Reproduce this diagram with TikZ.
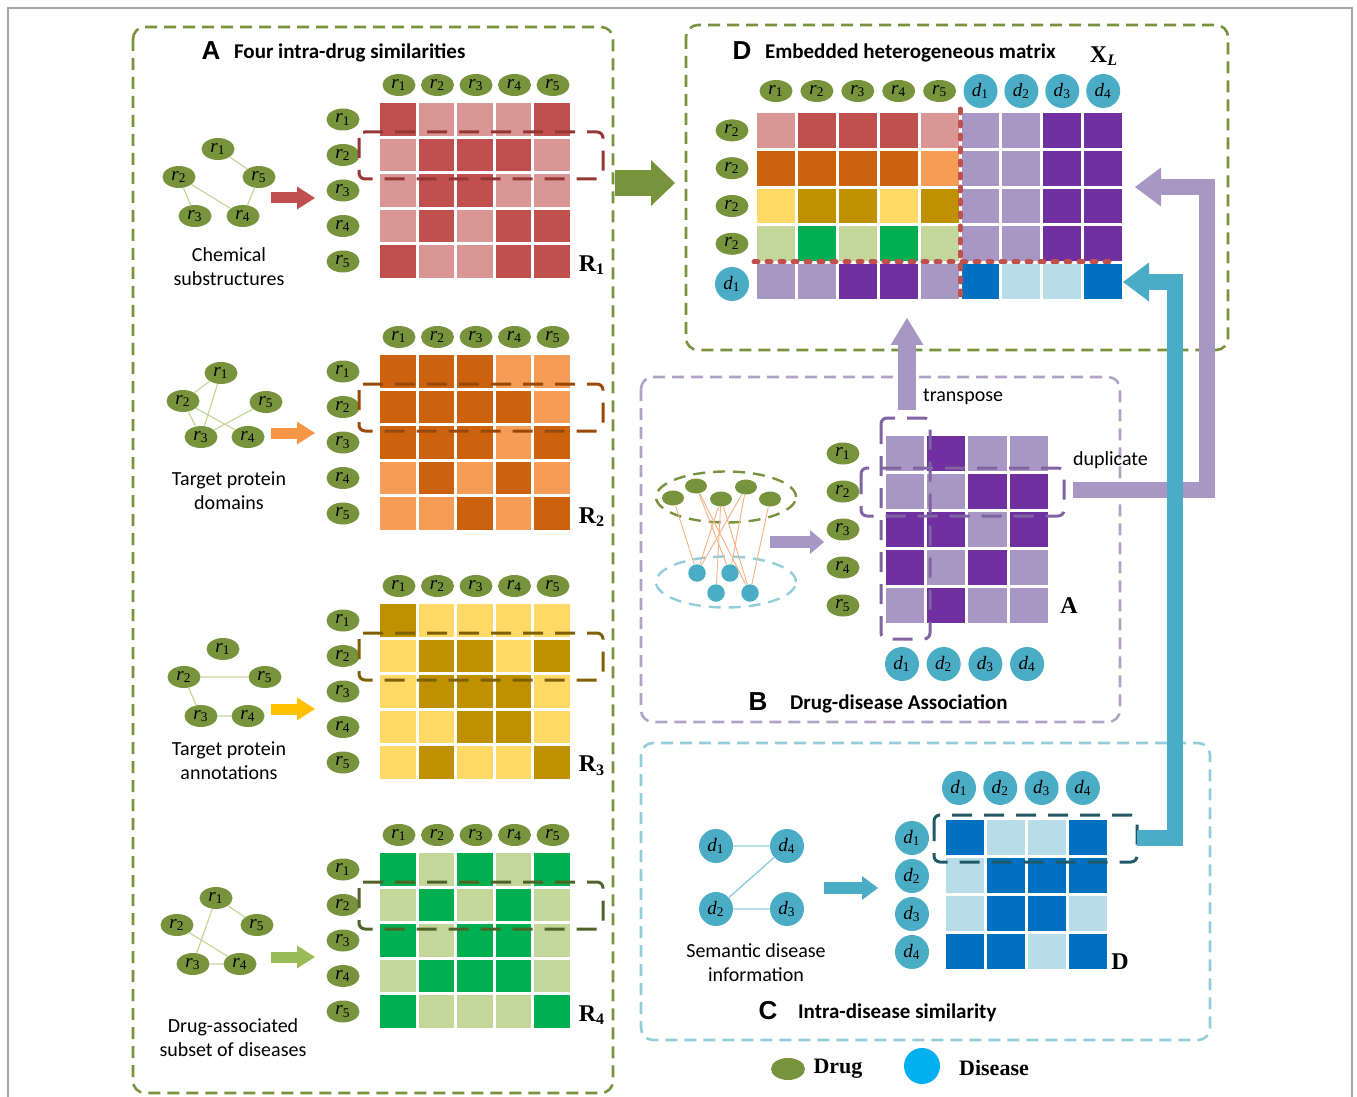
\documentclass[tikz,border=0pt]{standalone}
\usepackage{fontspec}
\setmainfont{Liberation Serif}
\setsansfont{Carlito}
\newfontfamily\tagfont{Liberation Sans}
\usetikzlibrary{arrows.meta, shapes.geometric}
\definecolor{cdrug}{HTML}{77933C}
\definecolor{cdis}{HTML}{4BACC6}
\definecolor{cleg}{HTML}{00B0F0}
\definecolor{cframe}{HTML}{A6A6A6}
\definecolor{frB}{HTML}{B3A2C7}
\definecolor{frC}{HTML}{92CDDC}
\definecolor{cedge}{HTML}{C4D79B}
\definecolor{clink}{HTML}{F4B183}
\definecolor{R1h}{HTML}{C0504D}
\definecolor{R1l}{HTML}{DA9694}
\definecolor{R2h}{HTML}{CC620E}
\definecolor{R2l}{HTML}{F59D56}
\definecolor{R3h}{HTML}{BF9000}
\definecolor{R3l}{HTML}{FFD966}
\definecolor{R4h}{HTML}{00B050}
\definecolor{R4l}{HTML}{C4D79B}
\definecolor{Ah}{HTML}{7030A0}
\definecolor{Al}{HTML}{A896C4}
\definecolor{Dh}{HTML}{0070C0}
\definecolor{Dl}{HTML}{B7DEE8}
\definecolor{hlR1}{HTML}{943634}
\definecolor{hlR2}{HTML}{984807}
\definecolor{hlR3}{HTML}{7F6000}
\definecolor{hlR4}{HTML}{4F6228}
\definecolor{hlA}{HTML}{8064A2}
\definecolor{hlD}{HTML}{215968}
\definecolor{aR1}{HTML}{C0504D}
\definecolor{aR2}{HTML}{F79646}
\definecolor{aR3}{HTML}{FFC000}
\definecolor{aR4}{HTML}{9BBB59}
\definecolor{aB}{HTML}{A896C4}
\newcommand{\drugl}[1]{\textit{r}\textsubscript{#1}}
\newcommand{\disl}[1]{\textit{d}\textsubscript{#1}}
% one coloured matrix: name, colour prefix, first centre x, y, pitch x, y, rows
\newcommand{\heatgrid}[7]{%
  \foreach \row [count=\i] in {#7} {
    \foreach \v [count=\j] in \row {
      \node[cell=#2\v, minimum width={(#5-3)*0.5pt}, minimum height={(#6-3)*0.5pt}]
        (#1-\i-\j) at ({#3+(\j-1)*#5}, {#4+(\i-1)*#6}) {};
    }
  }
}
\tikzset{
  every picture/.style={x=0.5pt, y=-0.5pt},
  drug/.style={ellipse, fill=cdrug, minimum width=16.5pt, minimum height=11pt, inner sep=0pt, font=\fontsize{9.5}{10}\selectfont},
  dis/.style={circle, fill=cdis, minimum size=17pt, inner sep=0pt, font=\fontsize{9.5}{10}\selectfont},
  cell/.style={fill=#1, inner sep=0pt},
  panel/.style={draw=#1, line width=1.3pt, dash pattern=on 6pt off 3.5pt, rounded corners=6pt},
  hl/.style={draw=#1, line width=1.5pt, dash pattern=on 10pt off 6pt, rounded corners=3pt},
  gedge/.style={draw=cedge, line width=0.6pt},
  barrow/.style={draw=#1, line width=5.5pt, -{Triangle[length=9pt, width=11.5pt, line width=0pt]}},
  flowarrow/.style={draw=#1, line width=8pt, line join=miter, -{Triangle[length=13pt, width=19.5pt, line width=0pt]}},
  sep/.style={draw=R1h, line width=2.5pt, line cap=round, dash pattern=on 2pt off 4.5pt},
  tag/.style={font=\tagfont\bfseries\fontsize{13}{15}\selectfont},
  title/.style={font=\sffamily\bfseries\fontsize{10.5}{12}\selectfont, anchor=west},
  note/.style={font=\sffamily\fontsize{10}{12}\selectfont, align=center},
  mlabel/.style={font=\bfseries\fontsize{12}{14}\selectfont},
}
\begin{document}
\begin{tikzpicture}
  \useasboundingbox (0,0) rectangle (1357,1097);
  \draw[draw=cframe, line width=0.8pt] (8,1097) -- (8,8) -- (1352,8) -- (1352,1097);
  % panel frames
  \draw[panel=cdrug] (133,27) rectangle (613,1093);
  \draw[panel=cdrug] (686,25) rectangle (1228,350);
  \draw[panel=frB] (641,377) rectangle (1120,722);
  \draw[panel=frC] (641,743) rectangle (1210,1040);

  % A: four intra-drug similarities
  \node[tag] (tagA) at (211,51) {A};
  \node[title] (titleA) at (227,53) {Four intra-drug similarities};
  \heatgrid{R1}{R1}{397.75}{119.5}{38.5}{35.5}{{h,l,l,l,h},{l,h,h,h,l},{l,h,h,l,l},{l,h,l,h,h},{h,l,l,h,h}}
  \heatgrid{R2}{R2}{397.75}{371.5}{38.5}{35.5}{{h,h,h,l,l},{h,h,h,h,l},{h,h,h,l,h},{l,h,l,h,l},{l,l,h,l,h}}
  \heatgrid{R3}{R3}{397.75}{620.5}{38.5}{35.5}{{h,l,l,l,l},{l,h,h,l,h},{l,h,h,h,l},{l,l,h,h,l},{l,h,l,l,h}}
  \heatgrid{R4}{R4}{397.75}{869.5}{38.5}{35.5}{{h,l,h,l,h},{l,h,l,h,l},{h,l,h,h,l},{l,h,h,h,l},{h,l,l,l,h}}
  \foreach \k/\t in {1/103, 2/355, 3/604, 4/853} {
    \foreach \j in {1,...,5} {
      \node[drug] (R\k-col\j) at ({399+(\j-1)*38.5}, \t-18) {\drugl{\j}};
      \node[drug] (R\k-row\j) at (343, {\t+16.5+(\j-1)*35.5}) {\drugl{\j}};
    }
    \draw[hl=hlR\k] (359, \t+29) rectangle (603, \t+76);
    \node[mlabel] (R\k-lab) at (592, \t+162) {R\textsubscript{\k}};
    \coordinate (R\k-from) at (271, \t+95);
    \coordinate (R\k-to) at (315, \t+95);
  }
  \foreach \j/\x/\y in {1/218/149, 2/179/177, 3/195/216, 4/243/216, 5/259/177}
    \node[drug] (g1-\j) at (\x,\y) {\drugl{\j}};
  \foreach \j/\x/\y in {1/221/373, 2/183/401, 3/201/437, 4/248/437, 5/266/402}
    \node[drug] (g2-\j) at (\x,\y) {\drugl{\j}};
  \foreach \j/\x/\y in {1/223/649, 2/184/677, 3/201/716, 4/248/716, 5/265/677}
    \node[drug] (g3-\j) at (\x,\y) {\drugl{\j}};
  \foreach \j/\x/\y in {1/216/898, 2/177/925, 3/193/964, 4/240/964, 5/257/925}
    \node[drug] (g4-\j) at (\x,\y) {\drugl{\j}};
  \draw[gedge] (g1-1) -- (g1-5) (g1-2) -- (g1-3) (g1-2) -- (g1-4) (g1-4) -- (g1-5);
  \draw[gedge] (g2-1) -- (g2-2) (g2-1) -- (g2-3) (g2-2) -- (g2-3) (g2-2) -- (g2-4) (g2-3) -- (g2-5);
  \draw[gedge] (g3-2) -- (g3-5) (g3-2) -- (g3-3) (g3-3) -- (g3-4);
  \draw[gedge] (g4-1) -- (g4-5) (g4-1) -- (g4-3) (g4-2) -- (g4-4) (g4-3) -- (g4-4);
  \draw[barrow=aR1] (R1-from) -- (R1-to);
  \draw[barrow=aR2] ([yshift=8.5pt]R2-from) -- ([yshift=8.5pt]R2-to);
  \draw[barrow=aR3] ([yshift=-5pt]R3-from) -- ([yshift=-5pt]R3-to);
  \draw[barrow=aR4] ([yshift=-4.5pt]R4-from) -- ([yshift=-4.5pt]R4-to);
  \node[note] (txt1) at (229,267) {Chemical\\substructures};
  \node[note] (txt2) at (229,491) {Target protein\\domains};
  \node[note] (txt3) at (229,761) {Target protein\\annotations};
  \node[note] (txt4) at (233,1038) {Drug-associated\\subset of diseases};

  % D: embedded heterogeneous matrix
  \node[tag] (tagD) at (742,51) {D};
  \node[title] (titleD) at (758,53) {Embedded heterogeneous matrix};
  \node[mlabel] (XL-lab) at (1104,56) {X\textsubscript{\textit{L}}};
  \heatgrid{XL}{}{775.95}{130.4}{40.9}{37.8}{{R1l,R1h,R1h,R1h,R1l,Al,Al,Ah,Ah},{R2h,R2h,R2h,R2h,R2l,Al,Al,Ah,Ah},{R3l,R3h,R3h,R3l,R3h,Al,Al,Ah,Ah},{R4l,R4h,R4l,R4h,R4l,Al,Al,Ah,Ah},{Al,Al,Ah,Ah,Al,Dh,Dl,Dl,Dh}}
  \foreach \j in {1,...,5}
    \node[drug] (XL-col\j) at ({776+(\j-1)*40.9}, 91) {\drugl{\j}};
  \foreach \j in {1,...,4}
    \node[dis] (XL-dcol\j) at ({980.5+(\j-1)*40.9}, 91) {\disl{\j}};
  \foreach \i in {1,...,4}
    \node[drug] (XL-row\i) at (732, {130.4+(\i-1)*37.8}) {\drugl{2}};
  \node[dis] (XL-row5) at (732, 284) {\disl{1}};
  \coordinate (vsepT) at (960,109);
  \coordinate (vsepB) at (960,300);
  \coordinate (hsepL) at (754,262);
  \coordinate (hsepR) at (1117,262);
  \draw[sep] (vsepT) -- (vsepB);
  \draw[sep] (hsepL) -- (hsepR);
  \coordinate (bigS) at (615,183);
  \coordinate (bigE) at (675,183);
  \draw[barrow=cdrug, line width=13pt, -{Triangle[length=12pt, width=23pt, line width=0pt]}] (bigS) -- (bigE);

  % B: drug-disease association
  \node[tag] (tagB) at (758,702) {B};
  \node[title] (titleB) at (783,704) {Drug-disease Association};
  \heatgrid{A}{A}{905.1}{453.5}{41.25}{38}{{l,h,l,l},{l,l,h,h},{h,h,l,h},{h,l,h,l},{l,h,l,l}}
  \foreach \i in {1,...,5}
    \node[drug] (A-row\i) at (843, {453.5+(\i-1)*38}) {\drugl{\i}};
  \foreach \j in {1,...,4}
    \node[dis] (A-col\j) at ({902+(\j-1)*41.7}, 664) {\disl{\j}};
  \draw[hl=hlA] (881,418) rectangle (930,639);
  \draw[hl=hlA] (861,468) rectangle (1064,516);
  \node[mlabel] (A-lab) at (1069,606) {A};
  \node[draw=cdrug, line width=1.2pt, dash pattern=on 6pt off 4pt, ellipse, minimum width=70pt, minimum height=25.5pt] (drugset) at (726,497) {};
  \node[draw=frC, line width=1.2pt, dash pattern=on 6pt off 4pt, ellipse, minimum width=70pt, minimum height=25.5pt] (disset) at (726,582) {};
  \foreach \j/\x/\y in {1/673/498, 2/696/486, 3/721/499, 4/746/487, 5/770/499}
    \node[ellipse, fill=cdrug, minimum width=11pt, minimum height=7.5pt, inner sep=0pt] (bg\j) at (\x,\y) {};
  \foreach \j/\x/\y in {1/697/573, 2/730/573, 3/716/593, 4/750/593}
    \node[circle, fill=cdis, minimum size=8.75pt, inner sep=0pt] (bd\j) at (\x,\y) {};
  \foreach \a/\b in {1/1, 2/2, 2/4, 3/1, 3/3, 3/4, 4/1, 4/2, 5/4}
    \draw[draw=clink, line width=0.45pt] (bg\a) -- (bd\b);
  \coordinate (Bfrom) at (770,542);
  \coordinate (Bto) at (824,542);
  \draw[barrow=aB, line width=6pt, -{Triangle[length=7pt, width=12pt, line width=0pt]}] (Bfrom) -- (Bto);
  \node[note, anchor=west] (trtxt) at (916,397) {transpose};
  \node[note, anchor=west] (duptxt) at (1066,460) {duplicate};

  % C: intra-disease similarity
  \node[tag] (tagC) at (768,1011) {C};
  \node[title] (titleC) at (791,1013) {Intra-disease similarity};
  \heatgrid{D}{D}{965}{837.5}{41}{38}{{h,l,l,h},{l,h,h,h},{l,h,h,l},{h,h,l,h}}
  \foreach \j in {1,...,4}
    \node[dis] (D-col\j) at ({959+(\j-1)*41.3}, 788) {\disl{\j}};
  \foreach \i in {1,...,4}
    \node[dis] (D-row\i) at (912, {838+(\i-1)*38}) {\disl{\i}};
  \draw[hl=hlD] (934,815) rectangle (1137,862);
  \node[mlabel] (D-lab) at (1120,962) {D};
  \node[dis] (cd1) at (716,846) {\disl{1}};
  \node[dis] (cd4) at (787,846) {\disl{4}};
  \node[dis] (cd2) at (716,909) {\disl{2}};
  \node[dis] (cd3) at (787,909) {\disl{3}};
  \draw[draw=frC, line width=0.7pt] (cd1) -- (cd4) (cd4) -- (cd2) (cd2) -- (cd3);
  \node[note] (txtC) at (756,963) {Semantic disease\\information};
  \coordinate (Cfrom) at (824,888);
  \coordinate (Cto) at (878,888);
  \draw[barrow=cdis, line width=6pt, -{Triangle[length=8pt, width=12pt, line width=0pt]}] (Cfrom) -- (Cto);

  % flows into the embedded matrix
  \coordinate (trS) at (907,410);
  \coordinate (trE) at (907,318);
  \draw[flowarrow=aB, line width=9pt, -{Triangle[length=13.5pt, width=16.5pt, line width=0pt]}] (trS) -- (trE);
  \coordinate (dupS) at (1073,490);
  \coordinate (dupK) at (1207,187);
  \coordinate (dupE) at (1135,187);
  \draw[flowarrow=aB] (dupS) -| (dupK) -- (dupE);
  \coordinate (simS) at (1137,838);
  \coordinate (simK) at (1175,282);
  \coordinate (simE) at (1123,282);
  \draw[flowarrow=cdis] (simS) -| (simK) -- (simE);

  % legend
  \node[drug, minimum width=17pt, minimum height=11pt] (legdrug) at (788,1069) {};
  \node[mlabel, font=\bfseries\fontsize{11}{13}\selectfont] (legdrugtxt) at (838,1069) {Drug};
  \node[circle, fill=cleg, minimum size=18pt, inner sep=0pt] (legdis) at (922,1066) {};
  \node[mlabel, font=\bfseries\fontsize{11}{13}\selectfont] (legdistxt) at (994,1068) {Disease};
\end{tikzpicture}
\end{document}
